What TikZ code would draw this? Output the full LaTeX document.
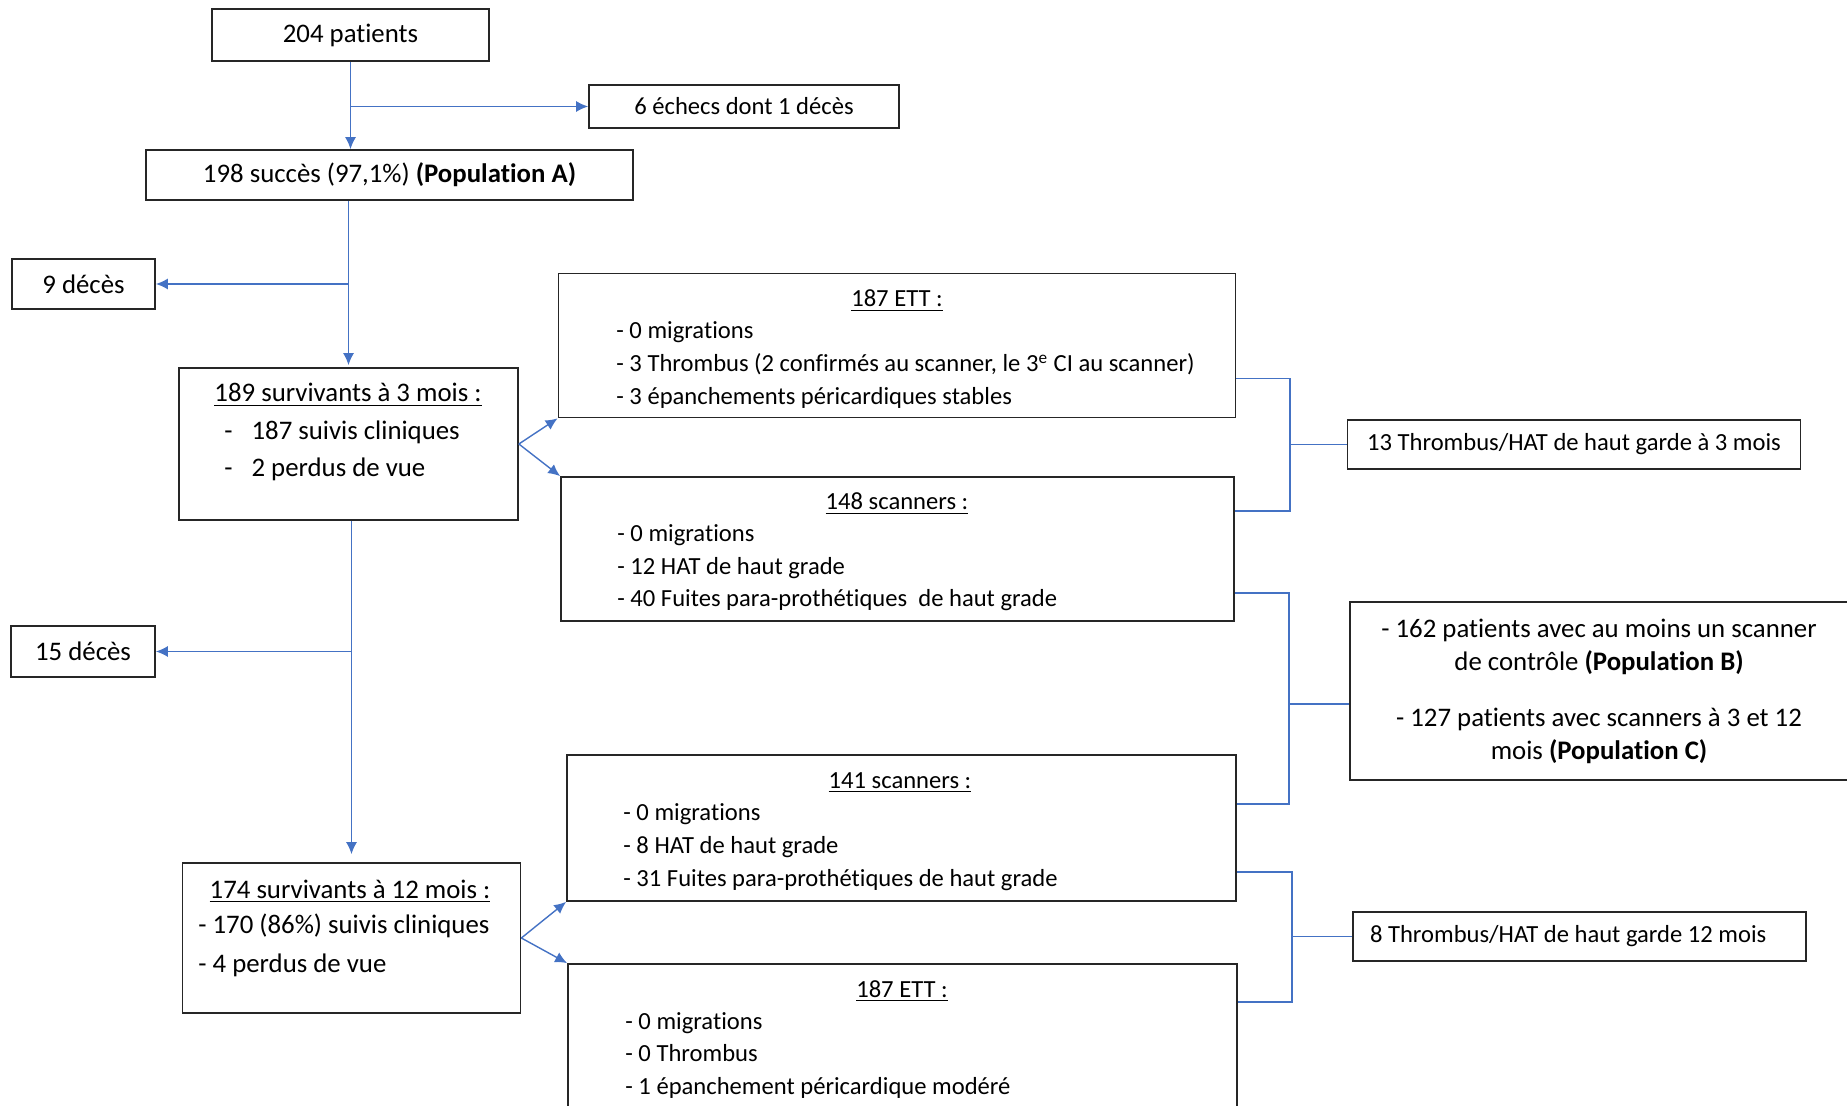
\documentclass[tikz,border=0pt]{standalone}
\usepackage{fontspec}
\setmainfont{Carlito}[Ligatures={NoCommon,NoDiscretionary}]
\usetikzlibrary{arrows.meta,positioning}
\definecolor{wordblue}{RGB}{68,114,196}
\tikzset{>={Latex[length=6pt,width=5.5pt]}}
\tikzset{box/.style={draw=black!85,line width=.85pt,font=\fontsize{12.3}{16.5}\selectfont}}
\tikzset{large/.style={font=\fontsize{13.4}{16.5}\selectfont}}
\tikzset{flow/.style={wordblue,line width=.7pt}}
\tikzset{txt/.style={inner sep=0pt,text height=10pt,text depth=1pt,font=\fontsize{12.3}{16.5}\selectfont}}
\tikzset{item/.style={txt,anchor=west}}

\begin{document}
\begin{tikzpicture}[x=.5pt,y=-.5pt]
  \useasboundingbox (0,0) rectangle (1847,1106);
  % boxes
  \node[box,large,minimum width=138.5pt,minimum height=26pt] (pat) at (350.5,35) {204 patients};
  \node[box,minimum width=155pt,minimum height=21.5pt] (echec) at (744,106.5) {6 échecs dont 1 décès};
  \node[box,large,minimum width=243.5pt,minimum height=25pt] (succ) at (389.5,175) {198 succès (97,1\%) \textbf{(Population A)}};
  \node[box,large,minimum width=71.5pt,minimum height=25pt] (dc9) at (83.5,284) {9 décès};
  \node[box,minimum width=169.5pt,minimum height=76pt] (s3) at (348.5,444) {};
  \node[box,minimum width=338.5pt,minimum height=72pt] (ett3) at (897,345.5) {};
  \node[box,minimum width=336.5pt,minimum height=72pt] (scan3) at (897.5,549) {};
  \node[box,minimum width=226.5pt,minimum height=24.5pt] (th3) at (1574,444.5) {13 Thrombus/HAT de haut garde à 3 mois};
  \node[box,large,minimum width=249pt,minimum height=89pt,align=center] (popbc) at (1599,691)
    {- 162 patients avec au moins un scanner\\ de contrôle \textbf{(Population B)}\\[11.5pt]
     - 127 patients avec scanners à 3 et 12\\ mois \textbf{(Population C)}};
  \node[box,large,minimum width=72pt,minimum height=25.5pt] (dc15) at (83,651.5) {15 décès};
  \node[box,minimum width=169pt,minimum height=75pt] (s12) at (351.5,938) {};
  \node[box,minimum width=334.5pt,minimum height=73pt] (scan12) at (901.5,828) {};
  \node[box,minimum width=334.5pt,minimum height=73pt] (ett12) at (902.5,1037) {};
  \node[box,minimum width=226.5pt,minimum height=24.5pt,text width=209.5pt,inner xsep=8.5pt,align=flush left] (th12) at (1579.5,936.5) {8 Thrombus/HAT de haut garde 12 mois};

  % box contents
  \node[txt,large] (s3-t) at (348,393) {\underline{189 survivants à 3 mois :}};
  \foreach \t [count=\i] in {187 suivis cliniques, 2 perdus de vue}
    \node[item,large] (s3-\i) at (224,{431+37*(\i-1)}) {-\hspace{9.5pt}\t};
  \node[txt] (ett3-t) at (897,298) {\underline{187 ETT :}};
  \foreach \t [count=\i] in {0 migrations, {3 Thrombus (2 confirmés au scanner, le 3\textsuperscript{e} CI au scanner)}, 3 épanchements péricardiques stables}
    \node[item] (ett3-\i) at (616,{330+33*(\i-1)}) {- \t};
  \node[txt] (scan3-t) at (897,501) {\underline{148 scanners :}};
  \foreach \t [count=\i] in {0 migrations, 12 HAT de haut grade, 40 Fuites para-prothétiques\ \ de haut grade}
    \node[item] (scan3-\i) at (617,{533+32.5*(\i-1)}) {- \t};
  \node[txt,large] (s12-t) at (350,889) {\underline{174 survivants à 12 mois :}};
  \foreach \t [count=\i] in {170 (86\%) suivis cliniques, 4 perdus de vue}
    \node[item,large] (s12-\i) at (198,{924+39*(\i-1)}) {- \t};
  \node[txt] (scan12-t) at (900,779) {\underline{141 scanners :}};
  \foreach \t [count=\i] in {0 migrations, 8 HAT de haut grade, 31 Fuites para-prothétiques de haut grade}
    \node[item] (scan12-\i) at (623,{811+33*(\i-1)}) {- \t};
  \node[txt] (ett12-t) at (902,988) {\underline{187 ETT :}};
  \foreach \t [count=\i] in {0 migrations, 0 Thrombus, 1 épanchement péricardique modéré}
    \node[item] (ett12-\i) at (625,{1020+32.5*(\i-1)}) {- \t};

  % main flow
  \draw[flow,->] (pat.south) -- (pat.south |- succ.north);
  \draw[flow,->] (pat.south |- echec.west) -- (echec.west);
  \draw[flow,->,shorten >=1pt] (succ.south -| s3.north) -- (s3.north);
  \draw[flow,->] (s3.north |- dc9.east) -- (dc9.east);
  \draw[flow,->,shorten >=4pt] (s3.south -| s12.north) -- (s12.north);
  \draw[flow,->] (s12.north |- dc15.east) -- (dc15.east);
  \draw[flow,->] (s3.east) -- (ett3.south west);
  \draw[flow,->] (s3.east) -- (scan3.north west);
  \draw[flow,->] (s12.east) -- (scan12.south west);
  \draw[flow,->] (s12.east) -- (ett12.north west);

  % brackets
  \coordinate (j1) at (1290,444.5);
  \coordinate (j2) at (1289,704);
  \coordinate (j3) at (1292,936.5);
  \draw[flow] ([yshift=20pt]ett3.south east) -| (j1) |- ([yshift=-17.5pt]scan3.north east);
  \draw[flow] (j1) -- (th3.west);
  \draw[flow] ([yshift=14.5pt]scan3.south east) -| (j2) |- ([yshift=-25pt]scan12.north east);
  \draw[flow] (j2) -- (j2 -| popbc.west);
  \draw[flow] ([yshift=15pt]scan12.south east) -| (j3) |- ([yshift=-19.5pt]ett12.north east);
  \draw[flow] (j3) -- (th12.west);
\end{tikzpicture}
\end{document}
